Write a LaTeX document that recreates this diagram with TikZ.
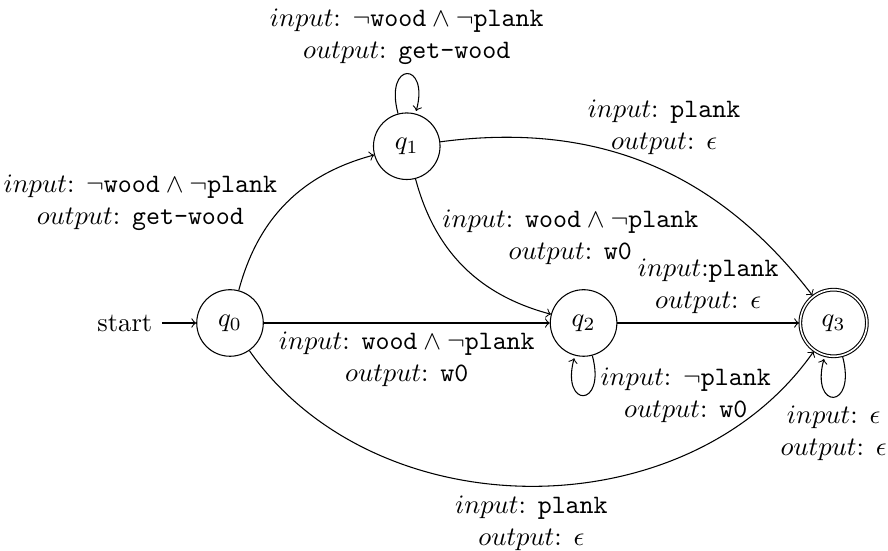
\documentclass[tikz,border=0pt]{standalone}
\usepackage{amsmath}
\usepackage{xcolor}
\usepackage{tikz}
\usetikzlibrary{automata}

\begin{document}
\begin{tikzpicture}[->, lbl/.style={align=center}]
    \useasboundingbox (-3.036,-3.009) rectangle (8.685,4.263);
    \node[state, initial] (q0) at (0,0) {$q_0$};
    \node[state] (q1) at (2.333,2.333) {$q_1$};
    \node[state] (q2) at (4.667,0) {$q_2$};
    \node[state, accepting] (q3) at (7.967,0) {$q_3$};

    \path (q0) edge[bend left] node[lbl, left] {$input$: $\neg\texttt{wood} \wedge \neg\texttt{plank}$\\ $output$: \texttt{get-wood}} (q1)
          (q0) edge node[lbl, below] {$input$: $\texttt{wood} \wedge \neg\texttt{plank}$\\ $output$: \texttt{w0}} (q2)
          (q0) edge[bend right=55] node[lbl, below] {$input$: \texttt{plank}\\ $output$: $\epsilon$} (q3)
          (q1) edge[loop above] node[lbl, above] {$input$: $\neg\texttt{wood} \wedge \neg\texttt{plank}$\\ $output$: \texttt{get-wood}} ()
          (q1) edge[bend right] node[lbl, above right, xshift=-4mm, yshift=-1mm] {$input$: $\texttt{wood} \wedge \neg\texttt{plank}$\\ $output$: \texttt{w0}} (q2)
          (q1) edge[bend left] node[lbl, above, xshift=2mm] {$input$: \texttt{plank}\\ $output$: $\epsilon$} (q3)
          (q2) edge node[lbl, above] {$input$:\texttt{plank}\\ $output$: $\epsilon$} (q3)
          (q2) edge[loop below] node[lbl, right, xshift=1mm] {$input$: $\neg\texttt{plank}$\\ $output$: \texttt{w0}} ()
          (q3) edge[loop below] node[lbl, below] {$input$: $\epsilon$\\ $output$: $\epsilon$} ();
\end{tikzpicture}
\end{document}
